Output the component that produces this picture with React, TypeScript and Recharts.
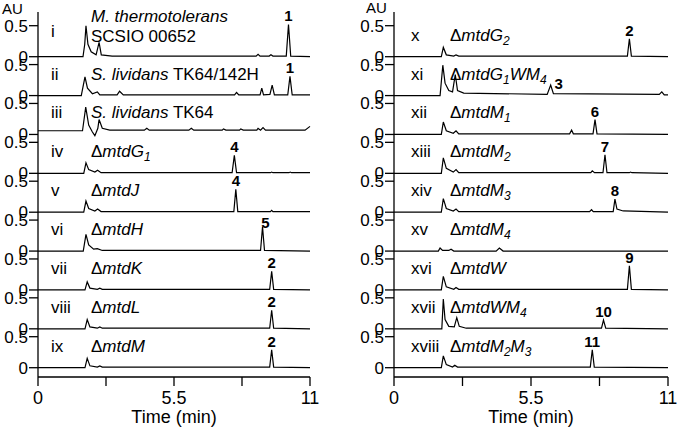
import { LineChart, Line, XAxis, YAxis, ReferenceDot } from 'recharts';

type Pt = [number, number];
type Peak = { k: number; t: number; h: number; text: string };

const timeTicks = [0, 2.75, 5.5, 8.25, 11];
const timeTickLabels = ['0', '', '5.5', '', '11'];

// chromatogram traces, [time (min), absorbance (AU)]
const traceI: Pt[] = [[0, 0], [1.82, 0], [1.89, 0.2], [1.94, 0.5], [2.02, 0.2], [2.15, 0.08], [2.35, 0.03], [2.47, 0.23], [2.56, 0.03], [3, 0.01], [8.82, 0.01], [8.9, 0.04], [8.98, 0.01], [9.35, 0.01], [9.42, 0.03], [9.5, 0.01], [10.04, 0.01], [10.13, 0.52], [10.22, 0.01], [11, 0]];
const traceII: Pt[] = [[0, 0], [1.75, 0], [1.9, 0.3], [2.0, 0.12], [2.2, 0.03], [2.4, 0.06], [2.5, 0.01], [3.2, 0.01], [3.3, 0.07], [3.45, 0.01], [7.95, 0.01], [8.03, 0.05], [8.12, 0.01], [8.98, 0.01], [9.05, 0.12], [9.12, 0.01], [9.38, 0.02], [9.47, 0.17], [9.56, 0.01], [10.1, 0.01], [10.19, 0.31], [10.28, 0.01], [11, 0.01]];
const traceIII: Pt[] = [[0, 0.06], [1.8, 0.06], [1.93, 0.44], [2.05, 0.15], [2.2, 0.04], [2.3, -0.02], [2.42, 0.1], [2.47, 0.24], [2.6, 0.1], [2.9, 0.07], [4.3, 0.07], [4.4, 0.1], [4.5, 0.07], [6.1, 0.07], [6.2, 0.1], [6.3, 0.07], [7.45, 0.07], [7.5, 0.09], [7.6, 0.07], [8.15, 0.07], [8.2, 0.09], [8.3, 0.07], [8.85, 0.07], [8.9, 0.1], [9.0, 0.07], [9.1, 0.11], [9.2, 0.07], [10.8, 0.07], [11, 0.13]];
const traceIV: Pt[] = [[0, 0], [1.85, 0], [1.94, 0.17], [2.05, 0.06], [2.3, 0.02], [2.41, 0.05], [2.55, 0.01], [7.85, 0.01], [7.94, 0.29], [8.03, 0.01], [9.4, 0.01], [9.45, 0.02], [9.5, 0.01], [10.15, 0.01], [10.2, 0.02], [10.25, 0.01], [11, 0.01]];
const traceV: Pt[] = [[0, 0], [1.85, 0], [1.94, 0.18], [2.05, 0.06], [2.3, 0.02], [2.41, 0.05], [2.55, 0.01], [7.92, 0.01], [8.0, 0.37], [8.08, 0.01], [9.4, 0.01], [9.45, 0.03], [9.5, 0.01], [11, 0.01]];
const traceVI: Pt[] = [[0, 0], [1.83, 0], [1.94, 0.27], [2.05, 0.1], [2.25, 0.03], [2.4, 0.04], [2.6, 0.01], [9.0, 0.01], [9.08, 0.39], [9.16, 0.01], [11, 0]];
const traceVII: Pt[] = [[0, 0], [1.9, 0], [1.99, 0.13], [2.1, 0.03], [2.4, 0.01], [2.5, 0.03], [2.6, 0.01], [9.37, 0.01], [9.45, 0.3], [9.53, 0.01], [11, 0]];
const traceVIII: Pt[] = [[0, 0], [1.9, 0], [1.99, 0.15], [2.1, 0.03], [2.4, 0.01], [2.5, 0.03], [2.6, 0.01], [9.37, 0.01], [9.45, 0.3], [9.53, 0.01], [11, 0]];
const traceIX: Pt[] = [[0, 0], [1.9, 0], [1.99, 0.15], [2.1, 0.03], [2.4, 0.01], [2.5, 0.03], [2.6, 0.01], [9.37, 0.01], [9.45, 0.29], [9.53, 0.01], [11, 0]];

const traceX: Pt[] = [[0, 0], [1.9, 0], [1.98, 0.15], [2.1, 0.03], [2.4, 0.01], [2.49, 0.03], [2.6, 0.01], [9.37, 0.01], [9.45, 0.29], [9.53, 0.01], [11, 0]];
const traceXI: Pt[] = [[0, 0], [1.85, 0], [1.96, 0.49], [2.05, 0.2], [2.2, 0.08], [2.35, 0.06], [2.46, 0.34], [2.55, 0.08], [2.8, 0.04], [6.15, 0.02], [6.29, 0.17], [6.4, 0.03], [10.65, 0.02], [10.75, 0.06], [10.85, 0.01], [11, 0.01]];
const traceXII: Pt[] = [[0, 0], [1.9, 0], [1.98, 0.2], [2.1, 0.06], [2.38, 0.02], [2.49, 0.06], [2.6, 0.01], [7.05, 0.01], [7.13, 0.07], [7.2, 0.01], [7.99, 0.01], [8.07, 0.24], [8.15, 0.01], [11, 0]];
const traceXIII: Pt[] = [[0, 0], [1.9, 0], [1.98, 0.25], [2.1, 0.08], [2.38, 0.02], [2.49, 0.06], [2.6, 0.01], [7.9, 0.01], [7.96, 0.04], [8.05, 0.01], [8.39, 0.01], [8.47, 0.3], [8.55, 0.01], [9.45, 0.01], [9.5, 0.02], [9.55, 0.01], [11, 0]];
const traceXIV: Pt[] = [[0, 0], [1.9, 0], [1.98, 0.22], [2.1, 0.06], [2.38, 0.02], [2.49, 0.05], [2.6, 0.01], [7.85, 0.01], [7.93, 0.04], [8.0, 0.01], [8.8, 0.01], [8.87, 0.21], [8.95, 0.05], [9.2, 0.02], [11, 0]];
const traceXV: Pt[] = [[0, 0], [1.78, 0], [1.85, 0.05], [1.95, 0.01], [2.2, 0.01], [2.29, 0.03], [2.4, 0], [4.1, 0], [4.23, 0.05], [4.38, 0], [11, 0]];
const traceXVI: Pt[] = [[0, 0], [1.9, 0], [1.98, 0.22], [2.1, 0.05], [2.4, 0.01], [2.49, 0.04], [2.6, 0.01], [9.37, 0.01], [9.45, 0.39], [9.53, 0.01], [11, 0]];
const traceXVII: Pt[] = [[0, 0], [1.92, 0], [1.98, 0.48], [2.05, 0.15], [2.2, 0.04], [2.42, 0.03], [2.52, 0.18], [2.62, 0.04], [2.9, 0.01], [8.33, 0.01], [8.41, 0.14], [8.5, 0.01], [11, 0]];
const traceXVIII: Pt[] = [[0, 0], [1.9, 0], [1.98, 0.19], [2.1, 0.05], [2.35, 0.01], [2.44, 0.04], [2.55, 0.01], [7.88, 0.01], [7.96, 0.29], [8.04, 0.01], [11, 0]];

const leftTraces = [traceI, traceII, traceIII, traceIV, traceV, traceVI, traceVII, traceVIII, traceIX];
const rightTraces = [traceX, traceXI, traceXII, traceXIII, traceXIV, traceXV, traceXVI, traceXVII, traceXVIII];

const leftNumerals = ['i', 'ii', 'iii', 'iv', 'v', 'vi', 'vii', 'viii', 'ix'];
const rightNumerals = ['x', 'xi', 'xii', 'xiii', 'xiv', 'xv', 'xvi', 'xvii', 'xviii'];

const leftStrains = ['M. thermotolerans\nSCSIO 00652', 'S. lividans TK64/142H', 'S. lividans TK64', 'ΔmtdG1', 'ΔmtdJ', 'ΔmtdH', 'ΔmtdK', 'ΔmtdL', 'ΔmtdM'];
const rightStrains = ['ΔmtdG2', 'ΔmtdG1WM4', 'ΔmtdM1', 'ΔmtdM2', 'ΔmtdM3', 'ΔmtdM4', 'ΔmtdW', 'ΔmtdWM4', 'ΔmtdM2M3'];

const leftPeaks: Peak[] = [
  { k: 0, t: 10.13, h: 0.52, text: '1' },
  { k: 1, t: 10.19, h: 0.31, text: '1' },
  { k: 3, t: 7.94, h: 0.29, text: '4' },
  { k: 4, t: 8.0, h: 0.37, text: '4' },
  { k: 5, t: 9.08, h: 0.39, text: '5' },
  { k: 6, t: 9.45, h: 0.3, text: '2' },
  { k: 7, t: 9.45, h: 0.3, text: '2' },
  { k: 8, t: 9.45, h: 0.29, text: '2' },
];
const rightPeaks: Peak[] = [
  { k: 0, t: 9.45, h: 0.29, text: '2' },
  { k: 1, t: 6.29, h: 0.17, text: '3' },
  { k: 2, t: 8.07, h: 0.24, text: '6' },
  { k: 3, t: 8.47, h: 0.3, text: '7' },
  { k: 4, t: 8.87, h: 0.21, text: '8' },
  { k: 6, t: 9.45, h: 0.39, text: '9' },
  { k: 7, t: 8.41, h: 0.14, text: '10' },
  { k: 8, t: 7.96, h: 0.29, text: '11' },
];

// layout
const FONT = '"Liberation Sans", Arial, sans-serif';
const STEP = 0.627; // vertical offset between stacked traces, AU
const Y_MIN = -0.15;
const Y_MAX = 5.737;
const PLOT_TOP = 12;
const PLOT_H = 365;
const PX_PER_AU = PLOT_H / (Y_MAX - Y_MIN);
const N = 9;
const labelNudge: Record<string, [number, number]> = { 'L-5': [3, 4], 'R-3': [8, 7] };

const offsetOf = (k: number) => (N - 1 - k) * STEP;
const baseY = (k: number) => PLOT_TOP + (Y_MAX - offsetOf(k)) * PX_PER_AU;

const yTicks: number[] = [];
for (let k = N - 1; k >= 0; k--) {
  yTicks.push(offsetOf(k), offsetOf(k) + 0.5);
}

function StrainName({ name }: { name: string }) {
  if (name.startsWith('Δ')) {
    const rest = [...name.slice(1)];
    return (
      <span>
        Δ
        <i>
          {rest.map((c, i) =>
            /\d/.test(c) ? (
              <span key={i} style={{ fontSize: 12, position: 'relative', top: 4 }}>{c}</span>
            ) : (
              <span key={i}>{c}</span>
            )
          )}
        </i>
      </span>
    );
  }
  const lines = name.split('\n');
  const words = lines[0].split(' ');
  return (
    <span>
      <i>{words.slice(0, 2).join(' ')}</i>
      {words.length > 2 ? ' ' + words.slice(2).join(' ') : ''}
      {lines.slice(1).map((l, i) => (
        <span key={i}>
          <br />
          {l}
        </span>
      ))}
    </span>
  );
}

function Panel({ side, traces, peaks, width, right }: { side: string; traces: Pt[][]; peaks: Peak[]; width: number; right: number }) {
  return (
    <LineChart width={width} height={429} margin={{ top: PLOT_TOP, right, bottom: 0, left: 0 }}>
      <XAxis
        type="number"
        dataKey="t"
        domain={[0, 11]}
        ticks={timeTicks}
        interval={0}
        tickFormatter={(v: number) => timeTickLabels[timeTicks.indexOf(v)] ?? ''}
        tickSize={9}
        tickMargin={5}
        stroke="#000"
        strokeWidth={1.3}
        tick={{ fill: '#000', fontSize: 18, fontFamily: FONT }}
        height={52}
        label={{ value: 'Time (min)', position: 'insideBottom', offset: 6, fill: '#000', fontSize: 18, fontFamily: FONT }}
      />
      <YAxis
        type="number"
        domain={[Y_MIN, Y_MAX]}
        allowDataOverflow
        ticks={yTicks}
        interval={0}
        tickFormatter={(v: number) => {
          const i = yTicks.findIndex((x) => Math.abs(x - v) < 1e-6);
          return i % 2 === 1 ? '0.5' : '0';
        }}
        tickSize={9}
        tickMargin={1}
        width={38}
        stroke="#000"
        strokeWidth={1.3}
        tick={{ fill: '#000', fontSize: 17, fontFamily: FONT }}
      />
      {traces.map((tr, k) => (
        <Line
          key={k}
          data={tr.map(([t, v]) => ({ t, v: v + offsetOf(k) }))}
          dataKey="v"
          type="linear"
          stroke="#000"
          strokeWidth={1.2}
          dot={false}
          activeDot={false}
          isAnimationActive={false}
        />
      ))}
      {peaks.map((p, i) => {
        const [dx, dy] = labelNudge[`${side}-${p.text}`] ?? [0, 0];
        return (
          <ReferenceDot
            key={i}
            x={p.t}
            y={p.h + offsetOf(p.k)}
            r={1}
            ifOverflow="visible"
            shape={(props: any) => (
              <text
                x={props.cx + dx}
                y={props.cy - 3 + dy}
                textAnchor="middle"
                fontSize={15}
                fontWeight="bold"
                fontFamily={FONT}
                fill="#000"
              >
                {p.text}
              </text>
            )}
          />
        );
      })}
    </LineChart>
  );
}

function TraceLabels({ numerals, strains, numX, nameX }: { numerals: string[]; strains: string[]; numX: number; nameX: number }) {
  return (
    <>
      {numerals.map((n, k) => {
        const twoLine = strains[k].includes('\n');
        const cy = baseY(k) - (twoLine ? 25 : 21);
        return (
          <div key={'n' + k} style={{ position: 'absolute', left: numX, top: cy - 11, lineHeight: '22px', fontSize: 17 }}>
            {n}
          </div>
        );
      })}
      {strains.map((s, k) => {
        const twoLine = s.includes('\n');
        const top = twoLine ? baseY(k) - 50 : baseY(k) - 32;
        return (
          <div
            key={'s' + k}
            style={{ position: 'absolute', left: nameX, top, lineHeight: twoLine ? '20px' : '22px', fontSize: 17, whiteSpace: 'nowrap' }}
          >
            <StrainName name={s} />
          </div>
        );
      })}
    </>
  );
}

export default function App() {
  return (
    <div style={{ position: 'absolute', left: 0, top: 0, width: 677, height: 429, background: '#fff', fontFamily: FONT, color: '#000' }}>
      <div style={{ position: 'absolute', left: 0, top: 0 }}>
        <Panel side="L" traces={leftTraces} peaks={leftPeaks} width={330} right={20} />
      </div>
      <div style={{ position: 'absolute', left: 356, top: 0 }}>
        <Panel side="R" traces={rightTraces} peaks={rightPeaks} width={321} right={9} />
      </div>
      <div style={{ position: 'absolute', left: 2, top: 1, fontSize: 15, lineHeight: '16px' }}>AU</div>
      <div style={{ position: 'absolute', left: 366, top: 0, fontSize: 15, lineHeight: '16px' }}>AU</div>
      <TraceLabels numerals={leftNumerals} strains={leftStrains} numX={51} nameX={91} />
      <TraceLabels numerals={rightNumerals} strains={rightStrains} numX={411} nameX={450} />
    </div>
  );
}
